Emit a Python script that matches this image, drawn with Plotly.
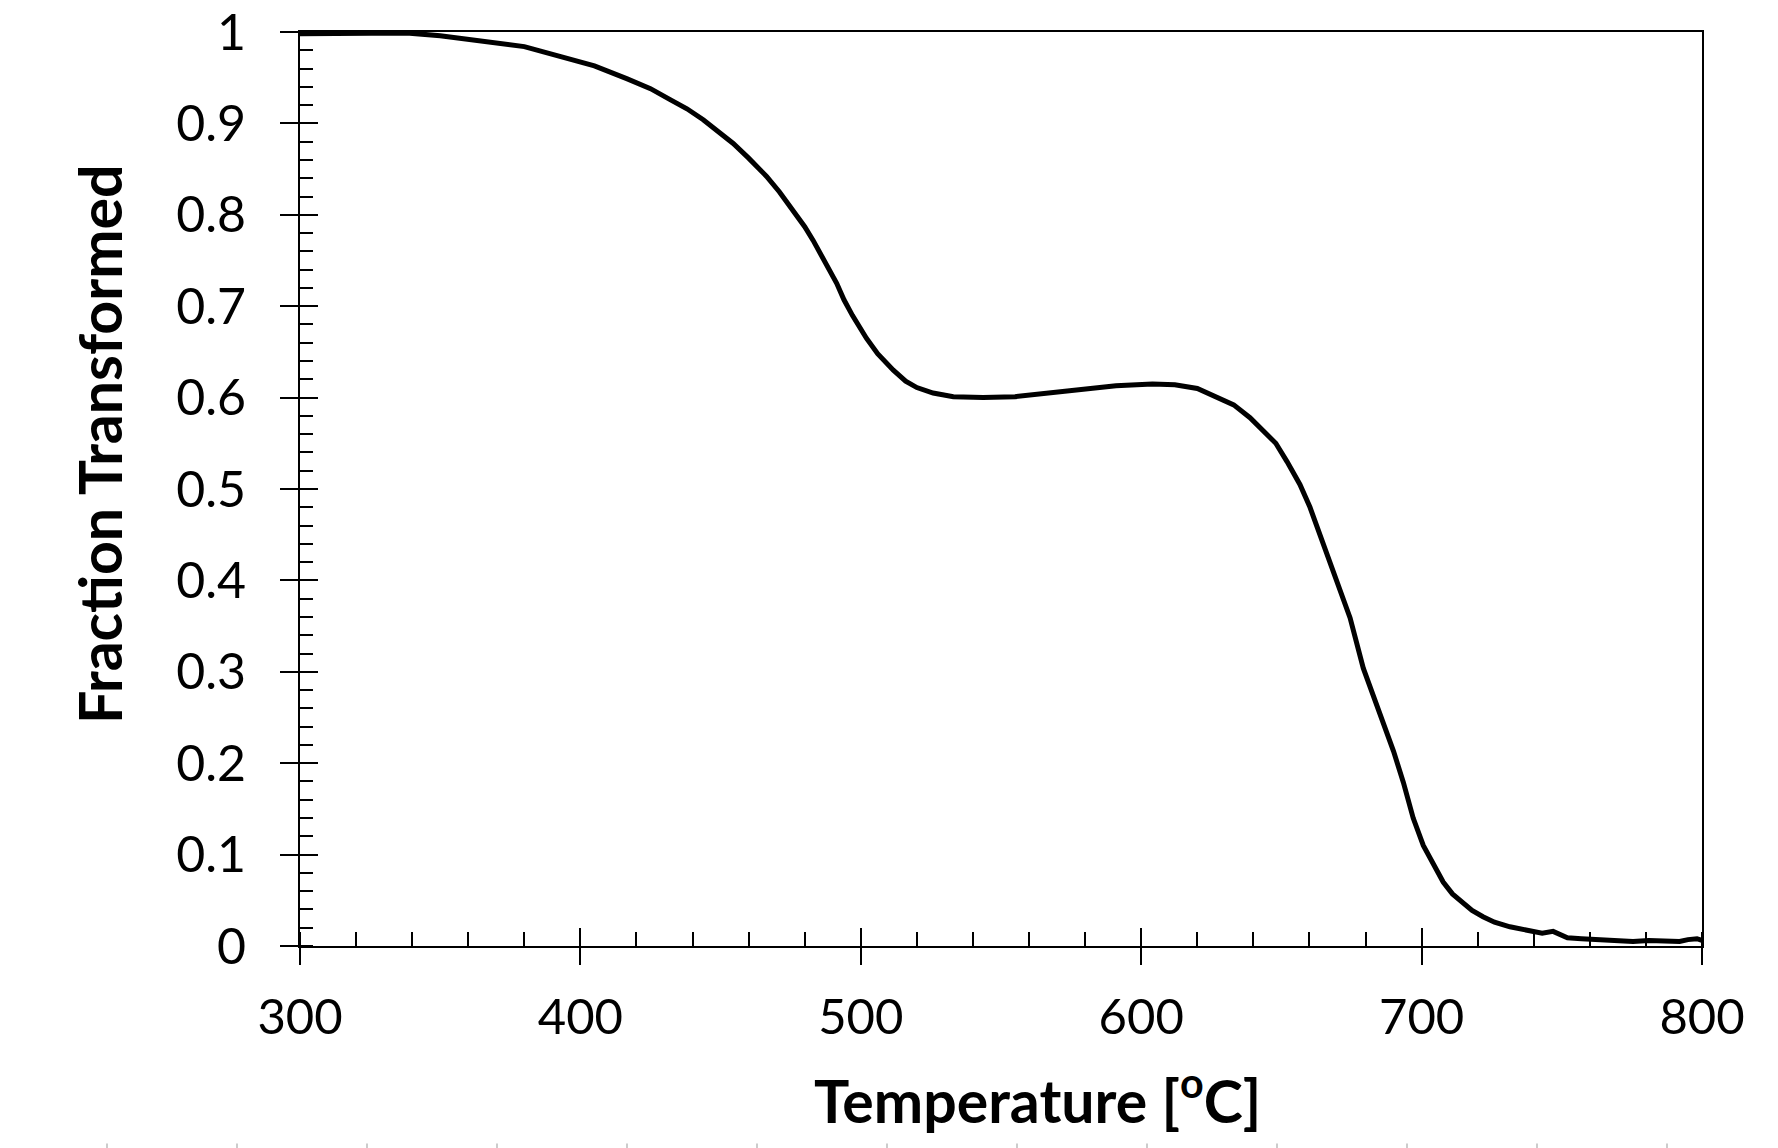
import plotly.graph_objects as go

# Data
temperature = [300, 320, 338, 350, 357, 370, 380, 393, 405, 416.5, 425, 432, 438, 443.8, 449,
               454.5, 460, 466.4, 471, 475.9, 480, 483, 487, 491.4, 494, 497, 502, 506, 511.6,
               516, 520, 525.8, 533, 543.6, 555, 567.5, 580, 591, 604, 612, 620, 627, 633,
               638.8, 644, 648, 652, 656.6, 660.2, 664, 668.4, 672, 674.5, 679.2, 683, 686.3,
               690, 693.5, 697, 700.6, 704, 707.7, 711, 714.9, 718, 721.9, 726, 731.5, 736,
               739.8, 743, 746.9, 750, 752, 757, 763.6, 770, 775.4, 781, 787.5, 792, 795,
               798.2, 800]
fraction = [0.998, 0.999, 0.999, 0.996, 0.993, 0.988, 0.984, 0.973, 0.963, 0.949, 0.938, 0.926,
            0.916, 0.904, 0.892, 0.878, 0.862, 0.842, 0.825, 0.805, 0.787, 0.772, 0.750, 0.725,
            0.707, 0.690, 0.665, 0.648, 0.630, 0.618, 0.611, 0.605, 0.601, 0.600, 0.601, 0.605,
            0.609, 0.613, 0.615, 0.614, 0.610, 0.601, 0.592, 0.578, 0.563, 0.550, 0.530, 0.505,
            0.480, 0.448, 0.409, 0.378, 0.359, 0.304, 0.272, 0.246, 0.213, 0.179, 0.140, 0.110,
            0.090, 0.070, 0.057, 0.046, 0.039, 0.032, 0.026, 0.021, 0.018, 0.016, 0.014, 0.016,
            0.012, 0.009, 0.008, 0.007, 0.006, 0.005, 0.006, 0.006, 0.005, 0.007, 0.008, 0.006]

x_title = "Temperature [<sup>o</sup>C]"
y_title = "Fraction Transformed"
x_ticks = [300, 400, 500, 600, 700, 800]
y_ticks = [0, 0.1, 0.2, 0.3, 0.4, 0.5, 0.6, 0.7, 0.8, 0.9, 1]
y_ticktext = ["0", "0.1", "0.2", "0.3", "0.4", "0.5", "0.6", "0.7", "0.8", "0.9", "1"]

W, H = 1778, 1148
L, R, T, B = 300, 76, 32, 202
pw, ph = W - L - R, H - T - B

def px_x(p):
    return (p - L) / pw

def px_y(p):
    return (H - B - p) / ph

FONT = "Lato"

fig = go.Figure()
fig.add_trace(go.Scatter(x=temperature, y=fraction, mode="lines",
                         line=dict(color="black", width=5), showlegend=False,
                         hoverinfo="skip"))
# empty trace so the overlay axes (inner half of major ticks) are drawn
fig.add_trace(go.Scatter(x=[], y=[], xaxis="x2", yaxis="y2", showlegend=False))

fig.update_layout(
    width=W, height=H,
    margin=dict(l=L, r=R, t=T, b=B, pad=0, autoexpand=False),
    paper_bgcolor="white", plot_bgcolor="white",
    font=dict(family=FONT, color="black"),
    xaxis=dict(range=[300, 800], tickvals=x_ticks, ticks="outside", ticklen=17,
               tickwidth=2, tickcolor="black", showline=True, linecolor="black",
               linewidth=2, mirror=True, showgrid=False, zeroline=False,
               automargin=False,
               tickfont=dict(family=FONT, size=49, color="black"),
               ticklabelstandoff=10,
               minor=dict(dtick=20, ticks="inside", ticklen=14, tickwidth=2,
                          tickcolor="black", showgrid=False)),
    yaxis=dict(range=[0, 1], tickvals=y_ticks, ticktext=y_ticktext, ticks="outside",
               ticklen=18, tickwidth=2, tickcolor="black", showline=True,
               linecolor="black", linewidth=2, mirror=True, showgrid=False,
               zeroline=False, automargin=False,
               tickfont=dict(family=FONT, size=50, color="black"),
               ticklabelstandoff=24,
               minor=dict(dtick=0.02, ticks="inside", ticklen=13, tickwidth=2,
                          tickcolor="black", showgrid=False)),
    xaxis2=dict(range=[300, 800], overlaying="x", anchor="y2", side="bottom",
                tickvals=x_ticks, ticks="inside", ticklen=18, tickwidth=2,
                tickcolor="black", showticklabels=False, showline=False,
                showgrid=False, zeroline=False, automargin=False),
    yaxis2=dict(range=[0, 1], overlaying="y", anchor="x2", side="left",
                tickvals=y_ticks, ticks="inside", ticklen=18, tickwidth=2,
                tickcolor="black", showticklabels=False, showline=False,
                showgrid=False, zeroline=False, automargin=False),
    annotations=[
        dict(text=f"<b>{x_title}</b>", xref="paper", yref="paper",
             x=px_x(1037), y=px_y(1096), xanchor="center", yanchor="middle",
             showarrow=False, font=dict(family=FONT, size=59, color="black")),
        dict(text=f"<b>{y_title}</b>", xref="paper", yref="paper",
             x=px_x(100), y=px_y(444), xanchor="center", yanchor="middle",
             textangle=-90, showarrow=False,
             font=dict(family=FONT, size=59, color="black")),
    ],
    shapes=[
        dict(type="line", xref="paper", yref="paper",
             x0=px_x(106), x1=px_x(W), y0=px_y(1146), y1=px_y(1146),
             line=dict(color="#cccccc", width=5, dash="2px,128px"), layer="above"),
    ],
)

fig.write_html("out.html", config={"displayModeBar": False},
               post_script="document.body.style.margin='0';"
                           "document.body.style.overflow='hidden';")
